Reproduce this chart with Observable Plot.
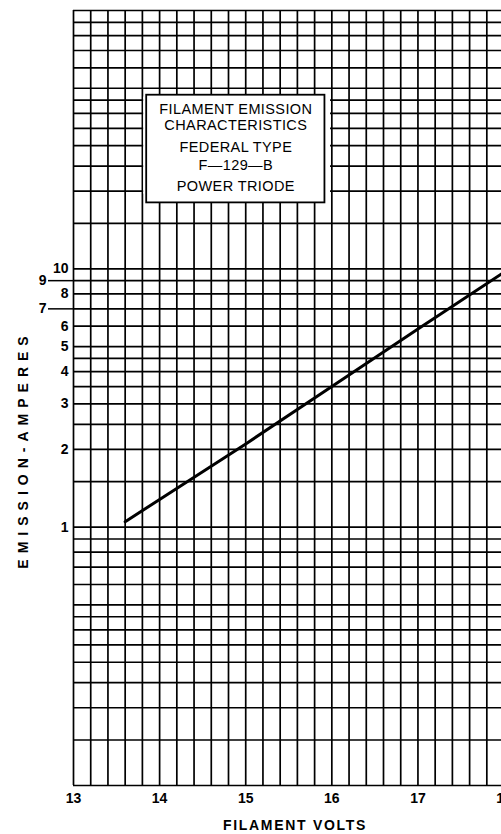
<!DOCTYPE html>
<html><head><meta charset="utf-8">
<script src="https://cdn.jsdelivr.net/npm/d3@7"></script>
<script src="https://cdn.jsdelivr.net/npm/@observablehq/plot@0.6"></script>
<style>
html,body{margin:0;padding:0;background:#fff;}
#wrap{width:501px;height:834px;overflow:hidden;position:relative;}
#wrap svg{max-width:none !important;}
</style></head><body><div id="wrap"></div>
<script>
// Curve: filament volts vs emission amperes
const volts   = [13.6, 14, 15, 16, 17, 18];
const amperes = [1.05, 1.28, 2.1, 3.5, 5.85, 9.7];

// Grid (semi-log paper)
const voltGrid = [13, 13.2, 13.4, 13.6, 13.8, 14, 14.2, 14.4, 14.6, 14.8, 15, 15.2, 15.4, 15.6, 15.8,
                  16, 16.2, 16.4, 16.6, 16.8, 17, 17.2, 17.4, 17.6, 17.8, 18, 18.2, 18.4];
const mantissas = [1, 1.5, 2, 2.5, 3, 3.5, 4, 4.5, 5, 6, 7, 8, 9];
const decades = [0.1, 1, 10];
const topLine = [100];

// Tick labels
const xTicks = [13, 14, 15, 16, 17, 18];
const yTicks = [1, 2, 3, 4, 5, 6, 8, 10];
const yTicksOffset = [9, 7];

// Texts
const boxLines = ["FILAMENT EMISSION", "CHARACTERISTICS", "FEDERAL TYPE", "F—129—B", "POWER TRIODE"];
const xTitle = "FILAMENT VOLTS";
const yTitle = "EMISSION-AMPERES";

const ampGrid = decades.flatMap(d => mantissas.map(m => +(d * m).toPrecision(3))).concat(topLine);
const curve = volts.map((v, i) => ({v, a: amperes[i]}));

const boxDy = [13.7, 30.4, 52, 69.7, 91.4];
const font = "Liberation Sans, Arial, sans-serif";
const lw = 1.7;

const chart = Plot.plot({
  width: 560,
  height: 834,
  marginLeft: 73,
  marginRight: 22,
  marginTop: 10,
  marginBottom: 49,
  style: {fontFamily: font, background: "white", color: "black", maxWidth: "none"},
  x: {domain: [13, 18.4]},
  y: {type: "log", domain: [0.1, 100]},
  marks: [
    Plot.ruleX(voltGrid, {stroke: "black", strokeWidth: lw}),
    Plot.ruleY(ampGrid, {stroke: "black", strokeWidth: lw}),
    Plot.rect([0], {x1: () => 13.8, x2: () => 16.0, y1: () => 20, y2: () => 45,
      fill: "white", insetLeft: 1.3, insetRight: 1.3, insetTop: -3, insetBottom: -3}),
    Plot.rect([0], {x1: () => 13.85, x2: () => 15.92, y1: () => 18, y2: () => 47,
      fill: "white", stroke: "black", strokeWidth: 1.8}),
    ...boxLines.map((t, i) => Plot.text([t], {
      x: () => (13.85 + 15.92) / 2, y: () => 47, dy: boxDy[i], text: d => d,
      fontSize: 14.5, fill: "black", fontFamily: font
    })),
    Plot.line(curve, {x: "v", y: "a", stroke: "black", strokeWidth: 3}),
    Plot.axisX(xTicks, {tickSize: 0, tickPadding: 8, label: null, fontSize: 14, fontWeight: "bold",
      tickFormat: d => String(d), fill: "black"}),
    Plot.axisY(yTicksOffset, {tickSize: 25, label: null, text: null,
      stroke: "black", strokeWidth: 1.5}),
    Plot.text(yTicks, {frameAnchor: "left", y: d => d, text: d => String(d), dx: -5,
      textAnchor: "end", lineAnchor: "middle", fontSize: 14, fontWeight: "bold", fill: "black"}),
    Plot.text(yTicksOffset, {frameAnchor: "left", y: d => d, text: d => String(d), dx: -27,
      textAnchor: "end", lineAnchor: "middle", fontSize: 14, fontWeight: "bold", fill: "black"}),
    Plot.text([xTitle], {frameAnchor: "bottom", dx: -11, dy: 40, text: d => d,
      textAnchor: "middle", lineAnchor: "middle",
      fontSize: 14, fontWeight: "bold", fill: "black"}),
    Plot.text([yTitle], {frameAnchor: "left", dx: -50, dy: 51.5, rotate: -90, text: d => d,
      textAnchor: "middle", lineAnchor: "middle",
      fontSize: 14, fontWeight: "bold", fill: "black"})
  ]
});

// letter spacing for the lettered titles
d3.select(chart).selectAll("text").each(function() {
  const t = this.textContent;
  if (t === yTitle) this.style.letterSpacing = "6px";
  else if (t === xTitle) this.style.letterSpacing = "1.7px";
  else if (boxLines.includes(t)) this.style.letterSpacing = "0.4px";
});

document.getElementById("wrap").appendChild(chart);
</script>
</body></html>
